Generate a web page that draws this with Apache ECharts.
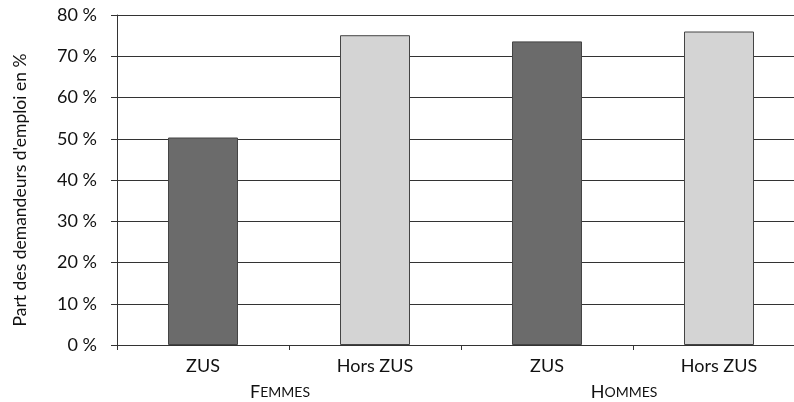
<!DOCTYPE html>
<html>
<head>
<meta charset="utf-8">
<script src="https://cdn.jsdelivr.net/npm/echarts@6/dist/echarts.min.js"></script>
<style>
html,body{margin:0;padding:0;background:#fff;}
#chart{width:794px;height:402px;}
</style>
</head>
<body>
<div id="chart"></div>
<script>
const categories = ['ZUS', 'Hors ZUS', 'ZUS', 'Hors ZUS'];
const groups = ['Femmes', 'Hommes'];
const values = [50.3, 75.1, 73.6, 76.0];
const yAxisTitle = "Part des demandeurs d'emploi en %";

const FONT = 'Lato';
const chart = echarts.init(document.getElementById('chart'));
chart.setOption({
  animation: false,
  backgroundColor: '#fff',
  grid: { left: 117, right: -11, top: 15, bottom: 57, containLabel: false, outerBoundsMode: 'none' },
  xAxis: [
    {
      type: 'category',
      data: categories,
      axisLine: { show: true, lineStyle: { color: '#333', width: 1 } },
      axisTick: { show: true, length: 5, lineStyle: { color: '#333' } },
      axisLabel: { color: '#111', fontFamily: FONT, fontSize: 18, margin: 12, interval: 0 },
      splitLine: { show: false }
    },
    {
      type: 'category',
      data: groups,
      position: 'bottom',
      axisLine: { show: false },
      axisTick: { show: false },
      splitLine: { show: false },
      axisLabel: {
        margin: 38,
        interval: 0,
        padding: [0, 18, 0, 0],
        formatter: function (v) {
          return '{cap|' + v.charAt(0).toUpperCase() + '}{sc|' + v.slice(1).toUpperCase() + '}';
        },
        rich: {
          cap: { fontFamily: FONT, fontSize: 18, color: '#111' },
          sc: { fontFamily: FONT, fontSize: 14, color: '#111' }
        }
      }
    }
  ],
  yAxis: {
    type: 'value',
    min: 0,
    max: 80,
    interval: 10,
    name: yAxisTitle,
    nameLocation: 'middle',
    nameGap: 88,
    nameTextStyle: { fontFamily: FONT, fontSize: 17.5, color: '#111', padding: [0, 20, 0, 0] },
    axisLine: { show: true, lineStyle: { color: '#333', width: 1 } },
    axisTick: { show: true, length: 6, lineStyle: { color: '#333' } },
    axisLabel: { formatter: '{value} %', fontFamily: FONT, fontSize: 18, color: '#111', margin: 20 },
    splitLine: { show: true, lineStyle: { color: '#333', width: 1 } }
  },
  series: [
    {
      type: 'bar',
      xAxisIndex: 0,
      data: values,
      barWidth: 70,
      itemStyle: {
        color: function (p) { return p.name === 'ZUS' ? '#6b6b6b' : '#d4d4d4'; },
        borderColor: '#444',
        borderWidth: 1
      }
    }
  ]
});
</script>
</body>
</html>
